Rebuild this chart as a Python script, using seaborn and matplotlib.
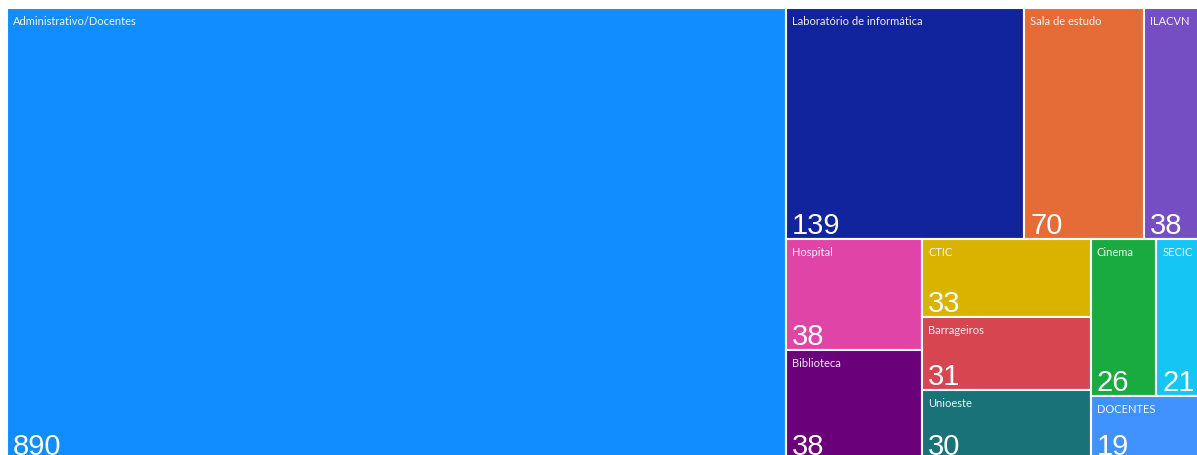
import matplotlib
matplotlib.use("Agg")
import matplotlib.pyplot as plt
from matplotlib.patches import Rectangle
import seaborn as sns

sns.set_theme(style="white")
plt.rcParams['font.family'] = ['Lato', 'DejaVu Sans']

categories = ["Administrativo/Docentes", "Laboratório de informática", "Sala de estudo",
              "ILACVN", "Hospital", "Biblioteca", "CTIC", "Barrageiros", "Unioeste",
              "Cinema", "SECIC", "DOCENTES"]
values = [890, 139, 70, 38, 38, 38, 33, 31, 30, 26, 21, 19]
colors = ["#118DFF", "#12239E", "#E66C37", "#744EC2", "#E044A7", "#6B007B",
          "#D9B300", "#D64550", "#197278", "#1AAB40", "#15C6F4", "#4092FF"]


def squarify(vals, x0, y0, x1, y1, ratio=(1 + 5 ** 0.5) / 2):
    # same idea as d3.treemapSquarify (golden ratio target)
    rects = []
    n = len(vals)
    i0 = i1 = 0
    total = float(sum(vals))
    while i0 < n:
        dx, dy = x1 - x0, y1 - y0
        s = vals[i1]
        i1 += 1
        vmin = vmax = s
        alpha = max(dy / dx, dx / dy) / (total * ratio)
        beta = s * s * alpha
        min_ratio = max(vmax / beta, beta / vmin)
        while i1 < n:
            v = vals[i1]
            s += v
            vmin, vmax = min(vmin, v), max(vmax, v)
            beta = s * s * alpha
            new_ratio = max(vmax / beta, beta / vmin)
            if new_ratio > min_ratio:
                s -= v
                break
            min_ratio = new_ratio
            i1 += 1
        row = vals[i0:i1]
        if dx < dy:
            h = dy * s / total
            x = x0
            for v in row:
                w = dx * v / s
                rects.append((x, y0, w, h))
                x += w
            y0 += h
        else:
            w = dx * s / total
            y = y0
            for v in row:
                h = dy * v / s
                rects.append((x0, y, w, h))
                y += h
            x0 += w
        total -= s
        i0 = i1
    return rects


fig = plt.figure(figsize=(11.97, 4.56), dpi=100)
ax = fig.add_axes([0, 0, 1, 1])
ax.set_xlim(0, 1197)
ax.set_ylim(456, 0)
ax.axis("off")

rects = squarify(values, 7, 9, 1209, 461)
for (x, y, w, h), name, val, col in zip(rects, categories, values, colors):
    ax.add_patch(Rectangle((x, y), w, h, facecolor=col, edgecolor="white", linewidth=1.5))
    ax.text(x + 6, y + 16, name, color="white", alpha=0.92, fontsize=8.0,
            va="baseline", ha="left")
    # value sits at the bottom-left; Power BI lets it run past the visual edge
    ax.text(x + 6, y + h - 6, str(val), color="white", fontsize=21,
            va="baseline", ha="left", family=["Liberation Sans", "DejaVu Sans"])

fig.savefig("out.png", dpi=100)
